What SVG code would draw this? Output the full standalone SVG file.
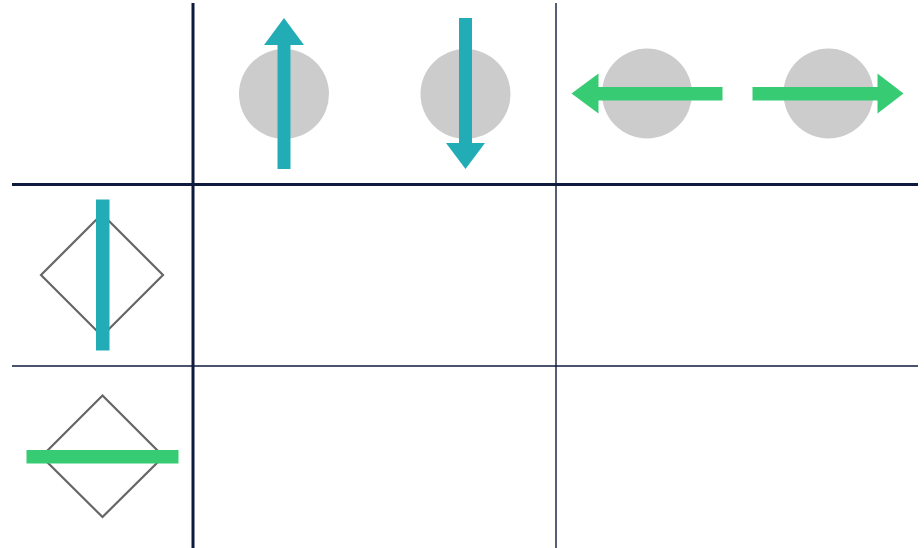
<svg xmlns="http://www.w3.org/2000/svg" width="924" height="548" viewBox="0 0 924 548">
<style>
.grid{stroke:#0e1a3e;fill:none}
.thick{stroke-width:3}
.thin{stroke-width:1.4}
.circ{fill:#cccccc}
.teal{fill:#22adb6}
.green{fill:#37cb74}
.dia{fill:none;stroke:#666666;stroke-width:2.2}
</style>
<rect width="924" height="548" fill="#ffffff"/>
<g id="grid">
<line class="grid thick" x1="193" y1="3" x2="193" y2="548"/>
<line class="grid thick" x1="12" y1="184.5" x2="918" y2="184.5"/>
<line class="grid thin" x1="12" y1="366" x2="918" y2="366"/>
<line class="grid thin" x1="556" y1="3" x2="556" y2="548"/>
</g>
<g id="up">
<circle class="circ" cx="284" cy="94" r="45"/>
<rect class="teal" x="277.5" y="44" width="13" height="125"/>
<polygon class="teal" points="284,18 304,45 264,45"/>
</g>
<g id="down">
<circle class="circ" cx="465.5" cy="94" r="45"/>
<rect class="teal" x="459" y="18" width="13" height="126"/>
<polygon class="teal" points="465.5,169 485,143 446,143"/>
</g>
<g id="left">
<circle class="circ" cx="647" cy="93.5" r="45"/>
<rect class="green" x="597" y="87" width="125.5" height="13.5"/>
<polygon class="green" points="571.5,93.5 598.5,73.5 598.5,113.5"/>
</g>
<g id="right">
<circle class="circ" cx="828.5" cy="93.5" r="45"/>
<rect class="green" x="752.5" y="87" width="126" height="13.5"/>
<polygon class="green" points="903.5,93.5 877.5,73.5 877.5,113.5"/>
</g>
<g id="diamond-vertical">
<polygon class="dia" points="102,214 163,275 102,336 41,275"/>
<rect class="teal" x="96" y="199.5" width="13.5" height="151"/>
</g>
<g id="diamond-horizontal">
<polygon class="dia" points="102.5,395.5 163.5,456.5 102.5,517 41.5,456.5"/>
<rect class="green" x="26.5" y="450" width="152" height="13.5"/>
</g>
</svg>
